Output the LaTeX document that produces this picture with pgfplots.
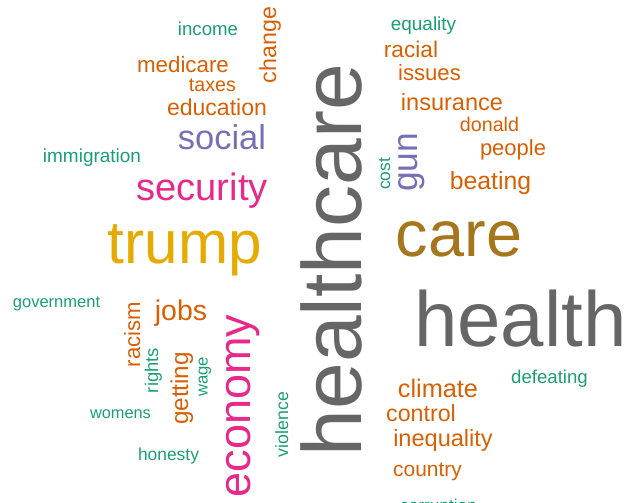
\documentclass[border=0pt]{standalone}
\usepackage{pgfplots}
\pgfplotsset{compat=1.18}
\usepackage{fontspec}
\setmainfont{Liberation Sans}

\definecolor{cG}{HTML}{1B9E77}
\definecolor{cO}{HTML}{D95F02}
\definecolor{cP}{HTML}{7570B3}
\definecolor{cK}{HTML}{E7298A}
\definecolor{cY}{HTML}{E6AB02}
\definecolor{cB}{HTML}{A6761D}
\definecolor{cH}{HTML}{666666}

% one word: {font size in pt}{rotation}{colour}; position in pixels from top left
\pgfplotsset{
  word/.style n args={3}{
    only marks, mark=none,
    nodes near coords,
    point meta=explicit symbolic,
    nodes near coords style={anchor=base, inner sep=0pt, rotate=#2,
      text=#3, font=\fontsize{#1}{#1}\selectfont},
  },
}

\begin{document}
\begin{tikzpicture}
\begin{axis}[
  scale only axis,
  width=12.6cm, height=10.04cm,
  xmin=0, xmax=630, ymin=0, ymax=502,
  y dir=reverse,
  hide axis,
  clip=false,
]
\addplot[word={10.6}{0}{cG}]  coordinates {(208,35.5) [income]};
\addplot[word={13.2}{90}{cO}] coordinates {(276,45) [change]};
\addplot[word={12.7}{0}{cO}]  coordinates {(183,73) [medicare]};
\addplot[word={11.2}{0}{cO}]  coordinates {(212.5,91.5) [taxes]};
\addplot[word={13.1}{0}{cO}]  coordinates {(217,115) [education]};
\addplot[word={19.6}{0}{cP}]  coordinates {(222,149) [social]};
\addplot[word={10.8}{0}{cG}]  coordinates {(92,162.7) [immigration]};
\addplot[word={21.7}{0}{cK}]  coordinates {(202,200) [security]};
\addplot[word={34.3}{0}{cY}]  coordinates {(185,263) [trump]};
\addplot[word={9.4}{0}{cG}]   coordinates {(56.5,307) [government]};
\addplot[word={16.2}{0}{cO}]  coordinates {(181,320) [jobs]};
\addplot[word={12.6}{90}{cO}] coordinates {(140,334.5) [racism]};
\addplot[word={10.5}{90}{cG}] coordinates {(158,370.5) [rights]};
\addplot[word={13.8}{90}{cO}] coordinates {(188,388.5) [getting]};
\addplot[word={9.5}{90}{cG}]  coordinates {(207.5,377) [wage]};
\addplot[word={25.6}{90}{cK}] coordinates {(250,406) [economy]};
\addplot[word={9.3}{0}{cG}]   coordinates {(120.5,418) [womens]};
\addplot[word={9.9}{0}{cG}]   coordinates {(168.5,460) [honesty]};
\addplot[word={10.1}{90}{cG}] coordinates {(288,424.5) [violence]};
\addplot[word={47.8}{90}{cH}] coordinates {(361,260) [healthcare]};
\addplot[word={10.8}{0}{cG}]  coordinates {(423.5,30.7) [equality]};
\addplot[word={12.9}{0}{cO}]  coordinates {(411,57.3) [racial]};
\addplot[word={12.6}{0}{cO}]  coordinates {(429.5,81) [issues]};
\addplot[word={13.4}{0}{cO}]  coordinates {(452,110) [insurance]};
\addplot[word={11.2}{0}{cO}]  coordinates {(489.5,131.7) [donald]};
\addplot[word={12.5}{0}{cO}]  coordinates {(513,155) [people]};
\addplot[word={14.1}{0}{cO}]  coordinates {(490.5,189.3) [beating]};
\addplot[word={20.1}{90}{cP}] coordinates {(417.5,162.5) [gun]};
\addplot[word={9.9}{90}{cG}]  coordinates {(390,174) [cost]};
\addplot[word={36.9}{0}{cB}]  coordinates {(459,256) [care]};
\addplot[word={44.4}{0}{cH}]  coordinates {(520.5,346) [health]};
\addplot[word={10.6}{0}{cG}]  coordinates {(549.5,383) [defeating]};
\addplot[word={14.4}{0}{cO}]  coordinates {(438,397.7) [climate]};
\addplot[word={13.2}{0}{cO}]  coordinates {(421,421.7) [control]};
\addplot[word={13.4}{0}{cO}]  coordinates {(443,446.7) [inequality]};
\addplot[word={11.9}{0}{cO}]  coordinates {(427.5,476.7) [country]};
\addplot[word={9.8}{0}{cG}]   coordinates {(438.5,511) [corruption]};
\end{axis}
\pgfresetboundingbox
\path (current axis.south west) rectangle (current axis.north east);
\end{tikzpicture}
\end{document}
